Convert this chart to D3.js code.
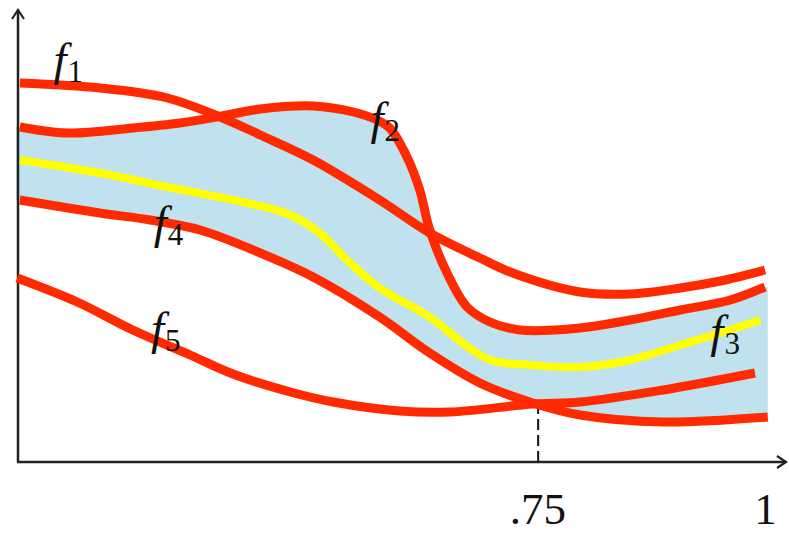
<!DOCTYPE html>
<html>
<head>
<meta charset="utf-8">
<script src="https://cdn.jsdelivr.net/npm/d3@7"></script>
<style>
  body { margin: 0; background: #fff; }
  svg { display: block; }
</style>
</head>
<body>
<div class="chartHolder"></div>
<script>
// curves, x in [0.18, 1], y in arbitrary units
var f1 = [[0.182,37.9],[0.270,37.4],[0.344,36.4],[0.402,34.5],[0.446,32.7],[0.504,30.2],[0.577,26.2],[0.632,22.9],[0.687,20.4],[0.723,18.9],[0.797,17.0],[0.852,16.8],[0.907,17.4],[0.951,18.1],[1.000,19.2]];
var f2 = [[0.182,33.5],[0.234,32.9],[0.306,33.4],[0.358,33.9],[0.398,34.5],[0.446,35.3],[0.504,35.6],[0.548,35.0],[0.574,34.2],[0.588,33.4],[0.607,30.5],[0.621,27.2],[0.632,23.2],[0.651,18.9],[0.673,15.5],[0.698,14.0],[0.731,13.2],[0.797,13.4],[0.852,14.2],[0.907,15.2],[0.962,16.2],[1.000,17.5]];
var f3 = [[0.182,30.2],[0.270,28.9],[0.344,27.5],[0.431,25.9],[0.479,24.7],[0.511,22.9],[0.541,20.2],[0.577,17.4],[0.632,14.5],[0.668,11.9],[0.698,10.2],[0.742,9.7],[0.797,9.5],[0.852,10.2],[0.907,11.7],[0.951,12.9],[0.995,14.2]];
var f4 = [[0.182,26.2],[0.270,24.9],[0.325,24.2],[0.380,23.2],[0.446,20.9],[0.504,18.5],[0.577,14.5],[0.632,10.9],[0.687,7.9],[0.745,5.9],[0.797,4.7],[0.888,4.0],[1.003,4.5]];
var f5 = [[0.179,18.4],[0.245,16.0],[0.306,13.2],[0.369,10.7],[0.416,8.8],[0.479,7.0],[0.526,6.0],[0.599,5.1],[0.654,5.0],[0.745,5.8],[0.797,6.0],[0.888,7.2],[0.989,8.9]];

var redCurves = [f1, f2, f4, f5];
var bandStartX = 0.178, bandEndX = 1.003;

var labelNames = ["1", "2", "3", "4", "5"];
var labelX = [0.219, 0.567, 0.940, 0.329, 0.326];
var labelY = [38.7, 32.8, 11.5, 22.4, 11.8];

var xTickValues = [0.75, 1];
var xTickLabels = [".75", "1"];
var markX = 0.751, markY = 5.9;

var svgW = 789, svgH = 534;
var svg = d3.select(".chartHolder").append("svg").attr("width", svgW).attr("height", svgH);

var xScale = d3.scaleLinear().domain([0.18, 1]).range([18, 765]);
var yScale = d3.scaleLinear().domain([0, 45]).range([462, 12]);

var line = d3.line()
  .x(function (d) { return xScale(d[0]); })
  .y(function (d) { return yScale(d[1]); })
  .curve(d3.curveCatmullRom.alpha(0.5));

// blue band between f2 (upper edge) and f4 (lower edge)
var bandTop = [[bandStartX, f2[0][1]]].concat(f2);
var bandBottom = f4.slice().reverse().concat([[bandStartX, f4[0][1]]]);
var bandPath = line(bandTop) + "L" + xScale(bandEndX) + "," + yScale(f2[f2.length - 1][1]) +
  "L" + line(bandBottom).slice(1) + "Z";
svg.append("path").attr("d", bandPath).attr("fill", "#bfe2ee").attr("stroke", "none");

// axes with arrows
var defs = svg.append("defs");
defs.append("marker").attr("id", "arrow").attr("markerUnits", "userSpaceOnUse")
  .attr("viewBox", "-12 -8 14 16").attr("refX", 0).attr("refY", 0)
  .attr("markerWidth", 14).attr("markerHeight", 16).attr("orient", "auto")
  .append("path").attr("d", "M-9,-6L0,0L-9,6").attr("fill", "none").attr("stroke", "#222").attr("stroke-width", 2.2);

svg.append("line").attr("x1", xScale(0.18)).attr("y1", yScale(0)).attr("x2", xScale(0.18)).attr("y2", 10)
  .attr("stroke", "#222").attr("stroke-width", 2.5).attr("marker-end", "url(#arrow)");
svg.append("line").attr("x1", xScale(0.18) - 1).attr("y1", yScale(0)).attr("x2", 786).attr("y2", yScale(0))
  .attr("stroke", "#222").attr("stroke-width", 2.5).attr("marker-end", "url(#arrow)");

var xAxis = d3.axisBottom(xScale).tickValues(xTickValues).tickSize(0)
  .tickFormat(function (d, i) { return xTickLabels[i]; });
var gx = svg.append("g").attr("transform", "translate(0," + yScale(0) + ")").call(xAxis);
gx.select(".domain").remove();
gx.selectAll("text").attr("y", 62).attr("dy", 0)
  .attr("font-family", "'Liberation Serif', 'DejaVu Serif', serif").attr("font-size", 45).attr("fill", "#111");

// dashed marker at .75
svg.append("line").attr("x1", xScale(markX)).attr("x2", xScale(markX))
  .attr("y1", yScale(markY)).attr("y2", yScale(0))
  .attr("stroke", "#111").attr("stroke-width", 2).attr("stroke-dasharray", "11,5");

// curves
svg.selectAll(".red").data(redCurves).enter().append("path").attr("class", "red")
  .attr("d", line).attr("fill", "none").attr("stroke", "#ff2a00").attr("stroke-width", 9);
svg.append("path").attr("d", line(f3)).attr("fill", "none").attr("stroke", "#ffff00").attr("stroke-width", 8);

// f labels
var lab = svg.selectAll(".flabel").data(labelNames).enter().append("text").attr("class", "flabel")
  .attr("x", function (d, i) { return xScale(labelX[i]); })
  .attr("y", function (d, i) { return yScale(labelY[i]); })
  .attr("font-family", "'Liberation Serif', 'DejaVu Serif', serif").attr("font-size", 47)
  .attr("font-style", "italic").attr("fill", "#111");
lab.append("tspan").text("f");
lab.append("tspan").attr("font-style", "normal").attr("font-size", 31).attr("dy", 7).attr("dx", 1)
  .text(function (d) { return d; });
</script>
</body>
</html>
